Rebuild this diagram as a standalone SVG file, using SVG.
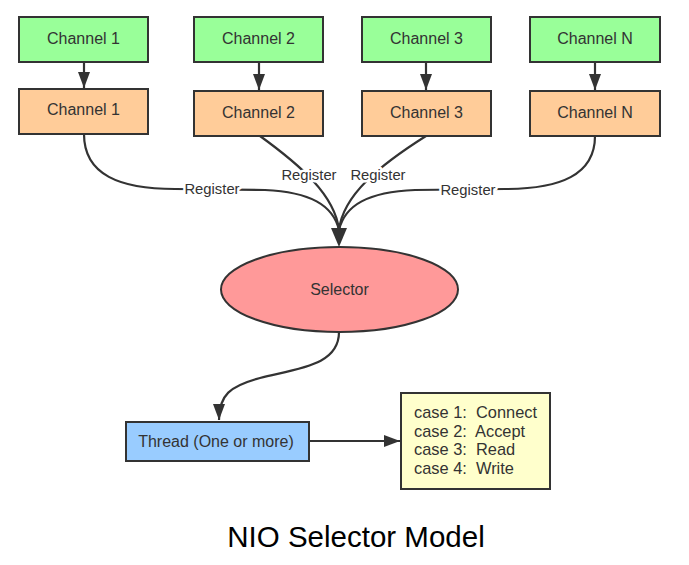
<svg xmlns="http://www.w3.org/2000/svg" width="689" height="565" viewBox="0 0 689 565">
<style>
.box{stroke:#333;stroke-width:2}
.g{fill:#99ff99}
.o{fill:#ffcc99}
.t{font-family:"Liberation Sans",Arial,sans-serif;font-size:16px;fill:#333;text-anchor:middle;dominant-baseline:central}
.c{font-family:"Liberation Sans",Arial,sans-serif;font-size:16.4px;fill:#333;white-space:pre}
.ln{fill:none;stroke:#333;stroke-width:2.2}
.lbl{font-family:"Liberation Sans",Arial,sans-serif;font-size:14.8px;fill:#333;text-anchor:middle;dominant-baseline:central;stroke:#fff;stroke-width:5;paint-order:stroke;stroke-linejoin:round}
</style>
<defs>
<marker id="ah" markerUnits="userSpaceOnUse" markerWidth="18" markerHeight="14" refX="16" refY="6" orient="auto">
<path d="M0,0 L16,6 L0,12 Z" fill="#333"/>
</marker>
</defs>
<rect width="689" height="565" fill="#fff"/>
<g id="connectors">
<path class="ln" d="M84,63 L84,88" marker-end="url(#ah)"/>
<path class="ln" d="M259,63 L259,90" marker-end="url(#ah)"/>
<path class="ln" d="M426,63 L426,90" marker-end="url(#ah)"/>
<path class="ln" d="M595,63 L595,90" marker-end="url(#ah)"/>
<path class="ln" d="M84,134 C84,175 120,189 175,189 L265,190 C310,192 333,205 339,230"/>
<path class="ln" d="M260,136 C300,165 335,195 339,230"/>
<path class="ln" d="M426,136 C380,165 343,195 339,230"/>
<path class="ln" d="M595,136 C595,175 560,189 505,189 L415,190 C368,192 345,205 339,230"/>
<polygon points="331,228 347,228 339,247" fill="#333"/>
<text class="lbl" x="212" y="189">Register</text>
<text class="lbl" x="309" y="175">Register</text>
<text class="lbl" x="378" y="175">Register</text>
<text class="lbl" x="468" y="190">Register</text>
<path class="ln" d="M339,332 C339,365 300,368 260,378 C230,386 219,395 219,420" marker-end="url(#ah)"/>
<path class="ln" d="M309,441 L400,441" marker-end="url(#ah)"/>
</g>
<g id="ch1-top"><rect class="box g" x="19" y="17" width="129" height="45"/><text class="t" x="83.5" y="38.5">Channel 1</text></g>
<g id="ch2-top"><rect class="box g" x="194" y="17" width="129" height="45"/><text class="t" x="258.5" y="38.5">Channel 2</text></g>
<g id="ch3-top"><rect class="box g" x="362" y="17" width="129" height="45"/><text class="t" x="426.5" y="38.5">Channel 3</text></g>
<g id="chN-top"><rect class="box g" x="530" y="17" width="130" height="45"/><text class="t" x="595" y="38.5">Channel N</text></g>
<g id="ch1"><rect class="box o" x="19" y="89" width="129" height="45"/><text class="t" x="83.5" y="109.5">Channel 1</text></g>
<g id="ch2"><rect class="box o" x="194" y="91" width="129" height="45"/><text class="t" x="258.5" y="112">Channel 2</text></g>
<g id="ch3"><rect class="box o" x="362" y="91" width="129" height="45"/><text class="t" x="426.5" y="112">Channel 3</text></g>
<g id="chN"><rect class="box o" x="530" y="91" width="130" height="45"/><text class="t" x="595" y="112">Channel N</text></g>
<g id="selector"><ellipse class="box" cx="339.5" cy="289.5" rx="118.5" ry="42.5" fill="#ff9999"/><text class="t" x="339.5" y="289">Selector</text></g>
<g id="thread"><rect class="box" x="126" y="422" width="183" height="39" fill="#99ccff"/><text class="t" x="216" y="441">Thread (One or more)</text></g>
<g id="cases"><rect class="box" x="401" y="393" width="149" height="96" fill="#ffffcc"/>
<text class="c" x="414" y="418">case 1:  Connect</text>
<text class="c" x="414" y="436.5">case 2:  Accept</text>
<text class="c" x="414" y="455">case 3:  Read</text>
<text class="c" x="414" y="473.5">case 4:  Write</text>
</g>
<text x="356" y="547" font-family="Liberation Sans,Arial,sans-serif" font-size="29.5" text-anchor="middle" fill="#000">NIO Selector Model</text>
</svg>
